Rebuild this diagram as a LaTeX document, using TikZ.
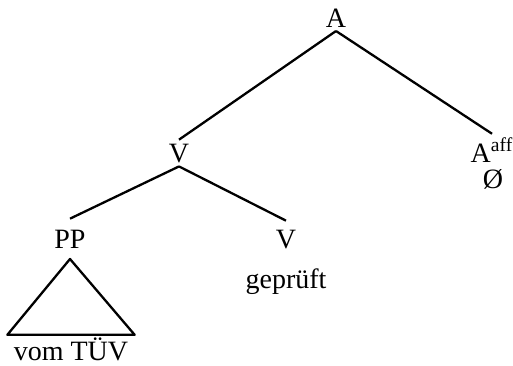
\documentclass[tikz,border=0pt]{standalone}
\usepackage{fontspec}
\setmainfont{Liberation Serif}
\usepackage{tikz}
\usetikzlibrary{positioning, calc}

\begin{document}
\begin{tikzpicture}[
  x=0.5pt, y=-0.5pt,
  cat/.style={
    inner sep=2pt, outer sep=0pt, anchor=base,
    font=\fontsize{14}{17}\selectfont
  },
  branch/.style={line width=1.15pt, line join=round}
]
  \useasboundingbox (0,0) rectangle (513,365);

  \node[cat] (a) at (336,27) {A};
  \node[cat] (v) at (179,162) {V};
  \node[cat] (aaff) at (492,162) {A\textsuperscript{aff}};
  \node[cat] (null) at (493,188) {Ø};
  \node[cat] (pp) at (70,248) {PP};
  \node[cat] (vv) at (286,248) {V};
  \node[cat] (gepr) at (286,288) {geprüft};
  \node[cat] (vom) at (71,360) {vom TÜV};

  \draw[branch] (a.south) -- (v.north);
  \draw[branch] (a.south) -- (aaff.north);
  \draw[branch] (v.south) -- ([yshift=3.5pt]pp.north);
  \draw[branch] (v.south) -- ([yshift=2.5pt]vv.north);

  \draw[branch] ([yshift=-3.5pt]pp.south)
    -- ([xshift=-1.25pt,yshift=-0.75pt]vom.north west)
    -- ([xshift=1.25pt,yshift=-0.75pt]vom.north east) -- cycle;
\end{tikzpicture}
\end{document}
